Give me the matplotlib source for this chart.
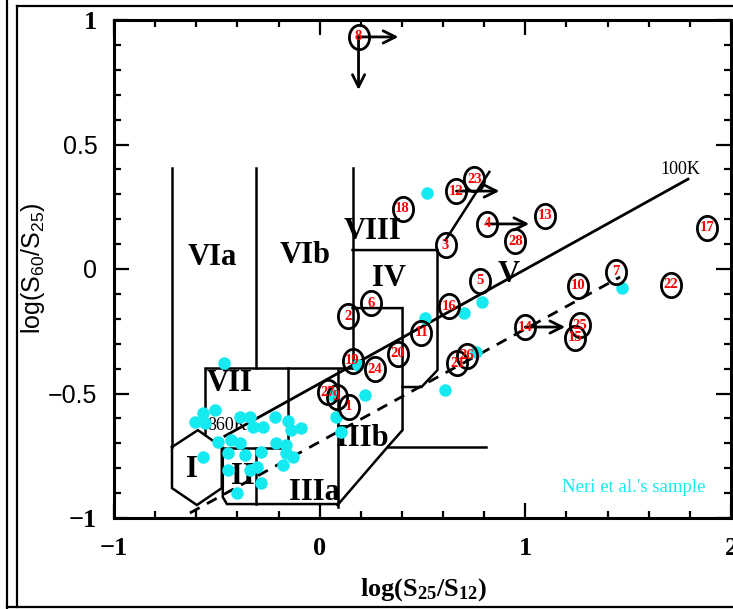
import numpy as np
import matplotlib.pyplot as plt
from matplotlib.path import Path
from matplotlib.lines import Line2D
from matplotlib.ticker import MultipleLocator

plt.rcParams['mathtext.default'] = 'regular'

SERIF = 'Liberation Serif'
SANS = 'Liberation Sans'
CYAN = '#14eaf0'

# -- Neri et al. sample (cyan dots) ------------------------------------------
neri_x = [-0.466, -0.510, -0.567, -0.607, -0.558, -0.388, -0.340, -0.324, -0.275,
          -0.218, -0.154, -0.137, -0.089, -0.494, -0.429, -0.388, -0.210, -0.162,
          -0.567, -0.445, -0.364, -0.283, -0.162, -0.445, -0.307, -0.340, -0.283,
          -0.404, -0.130, 0.218, 0.081, 0.105, 0.607, -0.178, 0.510, 0.704,
          0.791, 1.471, 0.762, 0.524, 0.184, 0.063]
neri_y = [-0.379, -0.566, -0.580, -0.613, -0.620, -0.596, -0.596, -0.633, -0.633,
          -0.596, -0.609, -0.647, -0.640, -0.694, -0.687, -0.700, -0.700, -0.707,
          -0.754, -0.740, -0.747, -0.734, -0.740, -0.807, -0.794, -0.807, -0.861,
          -0.901, -0.754, -0.506, -0.593, -0.653, -0.486, -0.787, -0.197, -0.177,
          -0.133, -0.076, -0.333, 0.305, -0.386, -0.506]

# -- numbered sources ----------------------------------------------------------
src_id = ['1', '2', '3', '4', '5', '6', '7', '8', '9', '10', '11', '12', '13', '14',
          '15', '16', '17', '18', '19', '20', '21', '22', '23', '24', '25', '26', '27', '28']
src_x = [0.141, 0.136, 0.612, 0.816, 0.782, 0.248, 1.442, 0.189, 0.083, 1.257, 0.495,
         0.665, 1.097, 1.000, 1.243, 0.631, 1.883, 0.403, 0.160, 0.379, 0.670, 1.709,
         0.752, 0.267, 1.267, 0.714, 0.039, 0.951]
src_y = [-0.554, -0.189, 0.096, 0.181, -0.048, -0.137, -0.012, 0.932, -0.514, -0.068,
         -0.257, 0.313, 0.213, -0.233, -0.277, -0.149, 0.165, 0.241, -0.369, -0.341,
         -0.378, -0.064, 0.361, -0.402, -0.225, -0.349, -0.494, 0.112]

# limits (start -> end) for sources with lower/upper limits
arrow_start = [(0.189, 0.932), (0.189, 0.932), (0.665, 0.313), (0.816, 0.181), (1.000, -0.233)]
arrow_end = [(0.383, 0.932), (0.189, 0.719), (0.874, 0.313), (1.019, 0.181), (1.194, -0.233)]

# -- blackbody line (860K -> 100K) and dashed relation ------------------------
bb_x = [-0.461, 1.791]
bb_y = [-0.671, 0.361]
dash_x = [-0.631, 1.461]
dash_y = [-0.980, -0.032]

# -- region boundaries (polylines) --------------------------------------------
region_lines = [
    [(-0.718, 0.406), (-0.718, -0.715)],
    [(-0.311, 0.406), (-0.311, -0.398)],
    [(0.160, 0.406), (0.160, -0.398)],
    [(-0.558, -0.659), (-0.558, -0.398), (0.160, -0.398)],
    [(-0.155, -0.398), (-0.155, -0.719), (-0.476, -0.719)],
    [(-0.718, -0.715), (-0.592, -0.647), (-0.476, -0.715), (-0.476, -0.880),
     (-0.597, -0.948), (-0.718, -0.880), (-0.718, -0.715)],
    [(-0.471, -0.719), (-0.471, -0.916), (-0.451, -0.944), (0.087, -0.944)],
    [(-0.311, -0.719), (-0.311, -0.944)],
    [(0.087, -0.406), (0.087, -0.956)],
    [(0.087, -0.948), (0.330, -0.715), (0.403, -0.647), (0.403, -0.157), (0.160, -0.157)],
    [(0.330, -0.715), (0.811, -0.715)],
    [(0.160, 0.076), (0.573, 0.076), (0.573, -0.406), (0.495, -0.474), (0.403, -0.474)],
    [(0.612, 0.116), (0.825, 0.390)],
]

region_names = ['VIa', 'VIb', 'VIII', 'IV', 'V', 'VII', 'I', 'II', 'IIIa', 'IIIb']
region_x = [-0.524, -0.073, 0.257, 0.335, 0.917, -0.437, -0.621, -0.374, -0.024, 0.209]
region_y = [0.048, 0.056, 0.149, -0.040, -0.024, -0.458, -0.807, -0.835, -0.896, -0.679]

# -- figure ---------------------------------------------------------------------
fig = plt.figure(figsize=(7.33, 6.09), dpi=100)
ax = fig.add_axes([114/733, 1 - 518/609, 617/733, 498/609])
ax.set_xlim(-1, 2)
ax.set_ylim(-1, 1)

for line in region_lines:
    xs, ys = zip(*line)
    ax.plot(xs, ys, color='black', lw=1.8, solid_joinstyle='miter')

ax.plot(bb_x, bb_y, color='black', lw=2.0)
ax.plot(dash_x, dash_y, color='black', lw=2.0, ls=(0, (4, 3)))

for name, x, y in zip(region_names, region_x, region_y):
    ax.text(x, y, name, family=SERIF, fontsize=22, fontweight='bold',
            ha='center', va='center')
ax.text(-0.447, -0.627, '860K', family=SERIF, fontsize=13, ha='center', va='center')
ax.text(1.752, 0.398, '100K', family=SERIF, fontsize=13, ha='center', va='center')

ax.plot(neri_x, neri_y, 'o', color=CYAN, ms=9, mec='none', zorder=3)
ax.text(1.529, -0.876, "Neri et al.'s sample", color=CYAN, family=SERIF,
        fontsize=13.5, ha='center', va='center')

for (x0, y0), (x1, y1) in zip(arrow_start, arrow_end):
    ax.annotate('', xy=(x1, y1), xytext=(x0, y0),
                arrowprops=dict(arrowstyle='->', lw=2.0, color='black',
                                mutation_scale=22, shrinkA=0, shrinkB=0))

t = np.linspace(0, 2*np.pi, 60)
ellipse = Path(np.column_stack([0.83*np.cos(t), np.sin(t)]))
ax.plot(src_x, src_y, ls='none', marker=ellipse, ms=17.5, mfc='none', mec='black',
        mew=2.0, zorder=4)
for s, x, y in zip(src_id, src_x, src_y):
    ax.text(x, y, s, color='red', family=SERIF, fontsize=10.5, fontweight='bold',
            ha='center', va='center', zorder=5)

# -- axes styling -------------------------------------------------------------------
for sp in ax.spines.values():
    sp.set_linewidth(2.2)
ax.xaxis.set_major_locator(MultipleLocator(1))
ax.xaxis.set_minor_locator(MultipleLocator(0.2))
ax.yaxis.set_major_locator(MultipleLocator(0.5))
ax.yaxis.set_minor_locator(MultipleLocator(0.1))
ax.tick_params(which='both', direction='in', top=True, right=True, width=1.6)
ax.tick_params(which='major', length=11)
ax.tick_params(which='minor', length=5)
ax.tick_params(axis='x', pad=14)
ax.tick_params(axis='y', pad=12)

ax.set_xticks([-1, 0, 1, 2])
ax.set_xticklabels(['\u22121', '0', '1', '2'], family=SERIF, fontsize=19, fontweight='bold')
ax.set_yticks([-1, -0.5, 0, 0.5, 1])
ax.set_yticklabels(['\u22121', '\u22120.5', '0', '0.5', '1'], family=SANS, fontsize=18)
for lab in ax.get_yticklabels():
    if lab.get_text() in ('1', '\u22121'):
        lab.set_family(SERIF)
        lab.set_fontweight('bold')
        lab.set_fontsize(19)

fig.text(424/733, 1 - 590/609, 'log(S$_{25}$/S$_{12}$)', family=SERIF, fontsize=19,
         fontweight='bold', ha='center', va='center')
fig.text(33/733, 1 - 268/609, 'log(S$_{60}$/S$_{25}$)', family=SANS, fontsize=18,
         rotation=90, ha='center', va='center')

# page frame
W, H = 733, 609
frame = [((7, 7), (0, 609)), ((17, 17), (6, 607)), ((17, 733), (6, 6)), ((7, 733), (607, 607))]
for xs, ys in frame:
    fig.add_artist(Line2D([x / W for x in xs], [1 - y / H for y in ys],
                          transform=fig.transFigure, color='black', lw=1.6))

fig.savefig('out.png', dpi=100)
